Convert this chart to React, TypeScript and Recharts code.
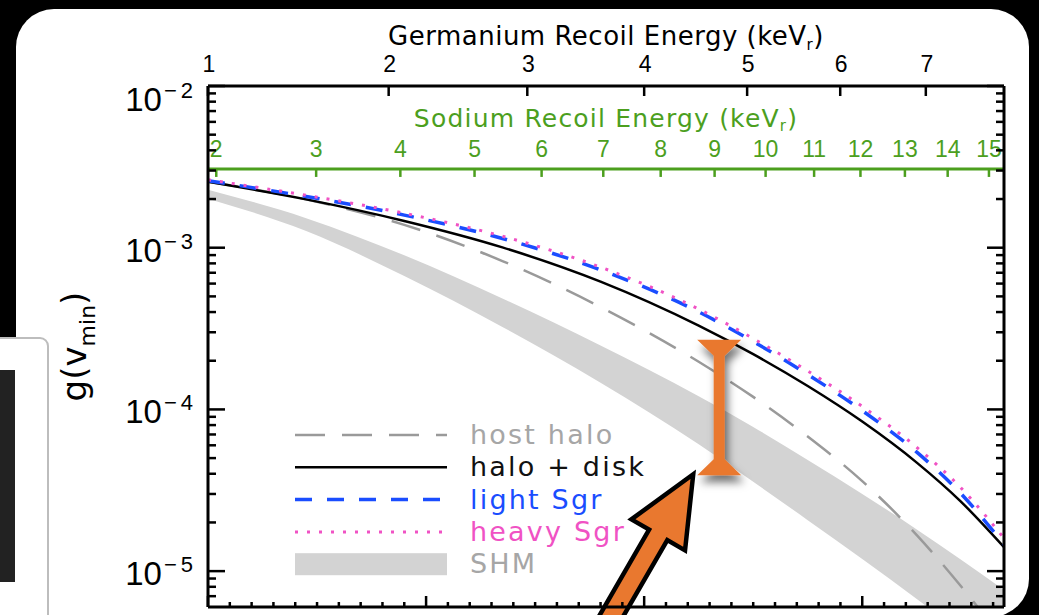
import {
  ComposedChart,
  Area,
  Line,
  XAxis,
  YAxis,
  ReferenceLine,
  ReferenceDot,
  Legend,
} from 'recharts'

// v_min grid in km/s (m_chi = 10 GeV)
const vMin = [200, 245, 290, 335, 380, 425, 450, 475, 500, 525, 545, 565]

// g(v_min) for each halo model
const hostHalo = [2.555e-3, 1.99e-3, 1.385e-3, 8.27e-4, 4.298e-4, 1.97e-4, 1.195e-4, 6.8e-5, 3.6e-5, 1.67e-5, 8.14e-6, 3.72e-6]
const haloDisk = [2.555e-3, 1.99e-3, 1.463e-3, 1.004e-3, 6.166e-4, 3.296e-4, 2.195e-4, 1.395e-4, 8.41e-5, 4.69e-5, 2.71e-5, 1.406e-5]
const lightSgr = [2.593e-3, 2.074e-3, 1.591e-3, 1.14e-3, 7.295e-4, 4.009e-4, 2.629e-4, 1.644e-4, 9.83e-5, 5.44e-5, 3.04e-5, 1.463e-5]
const heavySgr = [2.63e-3, 2.109e-3, 1.633e-3, 1.178e-3, 7.58e-4, 4.173e-4, 2.743e-4, 1.728e-4, 1.043e-4, 5.83e-5, 3.3e-5, 1.598e-5]
const shmHigh = [2.28e-3, 1.523e-3, 8.98e-4, 4.858e-4, 2.489e-4, 1.207e-4, 7.79e-5, 4.87e-5, 3.0e-5, 1.811e-5, 1.184e-5, 7.64e-6]
const shmLow = [2.007e-3, 1.268e-3, 6.68e-4, 3.236e-4, 1.462e-4, 6.08e-5, 3.57e-5, 2.067e-5, 1.189e-5, 6.73e-6, 4.21e-6, 2.62e-6]

// axis ticks
const geTickEnergies = [1, 2, 3, 4, 5, 6, 7]
const naTickEnergies = [2, 3, 4, 5, 6, 7, 8, 9, 10, 11, 12, 13, 14, 15]
const gDecades = [1e-6, 1e-5, 1e-4, 1e-3, 1e-2]
const minorSteps = [1, 2, 3, 4, 5, 6, 7, 8, 9]
const vMajorStep = 100
const vMinorStep = 10

// annotation: gap between halo + disk and the SHM band
const gapV = 434.4
const gapTop = 2.7e-4
const gapBottom = 3.92e-5
const arrowTail = { v: 368.3, g: 2.16e-6 }
const arrowTip = { v: 422.5, g: 3.97e-5 }

const V_DOMAIN: [number, number] = [200, 565]
const G_DOMAIN: [number, number] = [6e-6, 1e-2]
const GE_V_PER_SQRT_KEV = 200
const NA_V_PER_SQRT_KEV = 144.1
const NA_AXIS_LEVEL = 3.07e-3

const geToV = (e: number) => GE_V_PER_SQRT_KEV * Math.sqrt(e)
const naToV = (e: number) => NA_V_PER_SQRT_KEV * Math.sqrt(e)

const rows = vMin.map((v, i) => ({
  v,
  host: hostHalo[i],
  disk: haloDisk[i],
  light: lightSgr[i],
  heavy: heavySgr[i],
  shm: [shmLow[i], shmHigh[i]],
}))

const gTicks = gDecades
  .flatMap((d) => minorSteps.map((m) => m * d))
  .filter((t) => t > G_DOMAIN[0] * 1.0001 && t <= G_DOMAIN[1] * 1.0001)
const vTicks: number[] = []
for (let t = V_DOMAIN[0]; t <= V_DOMAIN[1]; t += vMinorStep) vTicks.push(t)
const geTicks = geTickEnergies.map(geToV)

const GREEN = '#4c9f1e'
const ORANGE = '#e9782f'
const NUM_FONT = '"Liberation Sans", Arial, sans-serif'
const TEXT_FONT = '"DejaVu Sans", sans-serif'

const styles = {
  host: { color: '#9a9a9a', text: '#a6a6a6', width: 2.5, dash: '30 17' },
  disk: { color: '#000000', text: '#111111', width: 2.5, dash: undefined },
  light: { color: '#1a4dff', text: '#1a4dff', width: 3.5, dash: '17 15' },
  heavy: { color: '#f052c4', text: '#f052c4', width: 3, dash: '3 9' },
  shm: { color: '#d3d3d3', text: '#a6a6a6', width: 0, dash: undefined },
}

const legendItems = [
  { key: 'host', label: 'host halo' },
  { key: 'disk', label: 'halo + disk' },
  { key: 'light', label: 'light Sgr' },
  { key: 'heavy', label: 'heavy Sgr' },
  { key: 'shm', label: 'SHM' },
] as const

const isDecade = (t: number) => Math.abs(Math.log10(t) - Math.round(Math.log10(t))) < 1e-6

function LeftTick({ x, y, payload }: any) {
  const t = payload.value
  const major = isDecade(t)
  const exp = Math.round(Math.log10(t))
  const base = y + (exp === -2 ? 25 : 14)
  return (
    <g>
      <line x1={x} x2={x + (major ? 17 : 8)} y1={y} y2={y} stroke="#000" strokeWidth={2.5} />
      {major && (
        <text x={x - 11} y={base} textAnchor="end" fontFamily={NUM_FONT} fontSize={33} fill="#000">
          10
          <tspan dx={2} dy={-13} fontSize={22} letterSpacing={4}>
            {'\u2212' + Math.abs(exp)}
          </tspan>
        </text>
      )}
    </g>
  )
}

function RightTick({ x, y, payload }: any) {
  const major = isDecade(payload.value)
  return <line x1={x} x2={x - (major ? 17 : 8)} y1={y} y2={y} stroke="#000" strokeWidth={2.5} />
}

function BottomTick({ x, y, payload }: any) {
  const major = payload.value % vMajorStep === 0
  return <line x1={x} x2={x} y1={y} y2={y - (major ? 11 : 5)} stroke="#000" strokeWidth={2.5} />
}

function GeTick({ x, y, payload }: any) {
  const e = Math.round(Math.pow(payload.value / GE_V_PER_SQRT_KEV, 2))
  return (
    <g>
      <line x1={x} x2={x} y1={y} y2={y + 10} stroke="#000" strokeWidth={2.5} />
      <text x={x + 1} y={y - 14} textAnchor="middle" fontFamily={NUM_FONT} fontSize={23} fill="#000">
        {e}
      </text>
    </g>
  )
}

function GeTitle({ viewBox }: any) {
  return (
    <text
      x={viewBox.x + viewBox.width / 2}
      y={viewBox.y + 45}
      textAnchor="middle"
      fontFamily={TEXT_FONT}
      fontSize={26}
      letterSpacing={0.5}
      fill="#000"
    >
      Germanium Recoil Energy (keV
      <tspan dy={5} fontSize={15}>r</tspan>
      <tspan dy={-5}>)</tspan>
    </text>
  )
}

function YTitle({ viewBox }: any) {
  const cx = 86
  const cy = viewBox.y + viewBox.height / 2
  return (
    <text
      x={cx}
      y={cy}
      transform={`rotate(-90 ${cx} ${cy})`}
      textAnchor="middle"
      fontFamily={TEXT_FONT}
      fontSize={34}
      fill="#000"
    >
      g(v
      <tspan dy={9} fontSize={22}>min</tspan>
      <tspan dy={-9}>)</tspan>
    </text>
  )
}

function NaAxisLine({ x1, y1, x2 }: any) {
  return (
    <g>
      <line x1={x1} x2={x2} y1={y1} y2={y1} stroke={GREEN} strokeWidth={3} />
      <text
        x={(x1 + x2) / 2}
        y={y1 - 42}
        textAnchor="middle"
        fontFamily={TEXT_FONT}
        fontSize={25}
        letterSpacing={1.2}
        fill={GREEN}
      >
        Sodium Recoil Energy (keV
        <tspan dy={4} fontSize={15}>r</tspan>
        <tspan dy={-4}>)</tspan>
      </text>
    </g>
  )
}

function NaTick({ cx, cy, label }: any) {
  return (
    <g>
      <line x1={cx} x2={cx} y1={cy} y2={cy + 8} stroke={GREEN} strokeWidth={2.5} />
      <text x={cx} y={cy - 12} textAnchor="middle" fontFamily={NUM_FONT} fontSize={23} fill={GREEN}>
        {label}
      </text>
    </g>
  )
}

function GapBeam({ x1, y1, y2 }: any) {
  const top = Math.min(y1, y2)
  const bot = Math.max(y1, y2)
  const half = 22
  const stem = 5.5
  const cap = 16
  const pts = [
    [x1 - half, top],
    [x1 + half, top],
    [x1 + stem, top + cap],
    [x1 + stem, bot - cap],
    [x1 + half, bot],
    [x1 - half, bot],
    [x1 - stem, bot - cap],
    [x1 - stem, top + cap],
  ]
  return (
    <g>
      <defs>
        <filter id="beamShadow" x="-80%" y="-20%" width="260%" height="150%">
          <feDropShadow dx={3} dy={7} stdDeviation={4} floodColor="#000" floodOpacity={0.55} />
        </filter>
      </defs>
      <polygon points={pts.map((p) => p.join(',')).join(' ')} fill={ORANGE} filter="url(#beamShadow)" />
    </g>
  )
}

function PointerArrow({ x1, y1, x2, y2 }: any) {
  const len = Math.hypot(x2 - x1, y2 - y1)
  const ux = (x2 - x1) / len
  const uy = (y2 - y1) / len
  const nx = -uy
  const ny = ux
  const headLen = 70
  const headHalf = 31
  const shaftHalf = 10.5
  const bx = x2 - ux * headLen
  const by = y2 - uy * headLen
  const pts = [
    [x1 - nx * shaftHalf, y1 - ny * shaftHalf],
    [bx - nx * shaftHalf, by - ny * shaftHalf],
    [bx - nx * headHalf, by - ny * headHalf],
    [x2, y2],
    [bx + nx * headHalf, by + ny * headHalf],
    [bx + nx * shaftHalf, by + ny * shaftHalf],
    [x1 + nx * shaftHalf, y1 + ny * shaftHalf],
  ]
  return (
    <polygon
      points={pts.map((p) => p.join(',')).join(' ')}
      fill={ORANGE}
      stroke="#000"
      strokeWidth={4.5}
      strokeLinejoin="miter"
    />
  )
}

function LegendBox() {
  return (
    <svg width={380} height={165} style={{ display: 'block' }}>
      {legendItems.map((item, i) => {
        const s = styles[item.key]
        const cy = 15 + i * 32.3
        return (
          <g key={item.key}>
            {item.key === 'shm' ? (
              <rect x={5} y={cy - 11} width={152} height={22} fill={s.color} />
            ) : (
              <line
                x1={5}
                x2={157}
                y1={cy}
                y2={cy}
                stroke={s.color}
                strokeWidth={s.width}
                strokeDasharray={s.dash}
              />
            )}
            <text
              x={180}
              y={cy + 9}
              fontFamily={TEXT_FONT}
              fontSize={27}
              letterSpacing={2.2}
              fill={s.text}
            >
              {item.label}
            </text>
          </g>
        )
      })}
    </svg>
  )
}

const AXIS_LINE = { stroke: '#000', strokeWidth: 3 }

export default function App() {
  return (
    <div
      style={{
        position: 'fixed',
        left: 0,
        top: 0,
        width: 1039,
        height: 615,
        overflow: 'hidden',
        background: '#000',
      }}
    >
      <div
        style={{
          position: 'absolute',
          left: 16,
          top: 9,
          width: 1013,
          height: 608,
          borderRadius: 38,
          background: '#fff',
        }}
      />
      <div style={{ position: 'absolute', left: 0, top: 0 }}>
        <ComposedChart width={1039} height={660} data={rows} margin={{ top: 0, right: 0, bottom: 0, left: 0 }}>
          <XAxis
            xAxisId="v"
            dataKey="v"
            type="number"
            domain={V_DOMAIN}
            allowDataOverflow
            ticks={vTicks}
            interval={0}
            height={53}
            tickSize={0}
            tickMargin={0}
            tickLine={false}
            axisLine={AXIS_LINE}
            tick={BottomTick}
          />
          <XAxis
            xAxisId="ge"
            dataKey="v"
            orientation="top"
            type="number"
            domain={V_DOMAIN}
            allowDataOverflow
            ticks={geTicks}
            interval={0}
            height={86}
            tickSize={0}
            tickMargin={0}
            tickLine={false}
            axisLine={AXIS_LINE}
            tick={GeTick}
            label={(p: any) => <GeTitle viewBox={p.viewBox} />}
          />
          <YAxis
            yAxisId="g"
            type="number"
            scale="log"
            domain={G_DOMAIN}
            allowDataOverflow
            ticks={gTicks}
            interval={0}
            width={208}
            tickSize={0}
            tickMargin={0}
            tickLine={false}
            axisLine={AXIS_LINE}
            tick={LeftTick}
            label={(p: any) => <YTitle viewBox={p.viewBox} />}
          />
          <YAxis
            yAxisId="right"
            orientation="right"
            type="number"
            scale="log"
            domain={G_DOMAIN}
            allowDataOverflow
            ticks={gTicks}
            interval={0}
            width={35}
            tickSize={0}
            tickMargin={0}
            tickLine={false}
            axisLine={AXIS_LINE}
            tick={RightTick}
          />

          <Area
            xAxisId="v"
            yAxisId="g"
            dataKey="shm"
            type="monotone"
            stroke="none"
            fill={styles.shm.color}
            fillOpacity={1}
            isAnimationActive={false}
          />
          <Line
            xAxisId="v"
            yAxisId="g"
            dataKey="host"
            type="monotone"
            stroke={styles.host.color}
            strokeWidth={styles.host.width}
            strokeDasharray={styles.host.dash}
            dot={false}
            isAnimationActive={false}
          />
          <Line
            xAxisId="v"
            yAxisId="g"
            dataKey="disk"
            type="monotone"
            stroke={styles.disk.color}
            strokeWidth={styles.disk.width}
            dot={false}
            isAnimationActive={false}
          />
          <Line
            xAxisId="v"
            yAxisId="g"
            dataKey="light"
            type="monotone"
            stroke={styles.light.color}
            strokeWidth={styles.light.width}
            strokeDasharray={styles.light.dash}
            dot={false}
            isAnimationActive={false}
          />
          <Line
            xAxisId="v"
            yAxisId="g"
            dataKey="heavy"
            type="monotone"
            stroke={styles.heavy.color}
            strokeWidth={styles.heavy.width}
            strokeDasharray={styles.heavy.dash}
            dot={false}
            isAnimationActive={false}
          />

          <ReferenceLine
            xAxisId="v"
            yAxisId="g"
            y={NA_AXIS_LEVEL}
            ifOverflow="visible"
            shape={(p: any) => <NaAxisLine {...p} />}
          />
          {naTickEnergies.map((e) => (
            <ReferenceDot
              key={e}
              xAxisId="v"
              yAxisId="g"
              x={naToV(e)}
              y={NA_AXIS_LEVEL}
              r={0}
              ifOverflow="visible"
              shape={(p: any) => <NaTick {...p} label={e} />}
            />
          ))}

          <ReferenceLine
            xAxisId="v"
            yAxisId="g"
            segment={[
              { x: gapV, y: gapTop },
              { x: gapV, y: gapBottom },
            ]}
            ifOverflow="visible"
            shape={(p: any) => <GapBeam {...p} />}
          />
          <ReferenceLine
            xAxisId="v"
            yAxisId="g"
            segment={[
              { x: arrowTail.v, y: arrowTail.g },
              { x: arrowTip.v, y: arrowTip.g },
            ]}
            ifOverflow="visible"
            shape={(p: any) => <PointerArrow {...p} />}
          />

          <Legend
            layout="vertical"
            align="center"
            verticalAlign="middle"
            wrapperStyle={{ left: 290, top: 420, width: 380, height: 165 }}
            content={() => <LegendBox />}
          />
        </ComposedChart>
      </div>
      <div
        style={{
          position: 'absolute',
          left: -12,
          top: 337,
          width: 57,
          height: 300,
          background: '#fff',
          border: '2px solid #bdbdbd',
          borderRadius: 9,
        }}
      />
      <div style={{ position: 'absolute', left: 0, top: 370, width: 15, height: 212, background: '#222' }} />
    </div>
  )
}
